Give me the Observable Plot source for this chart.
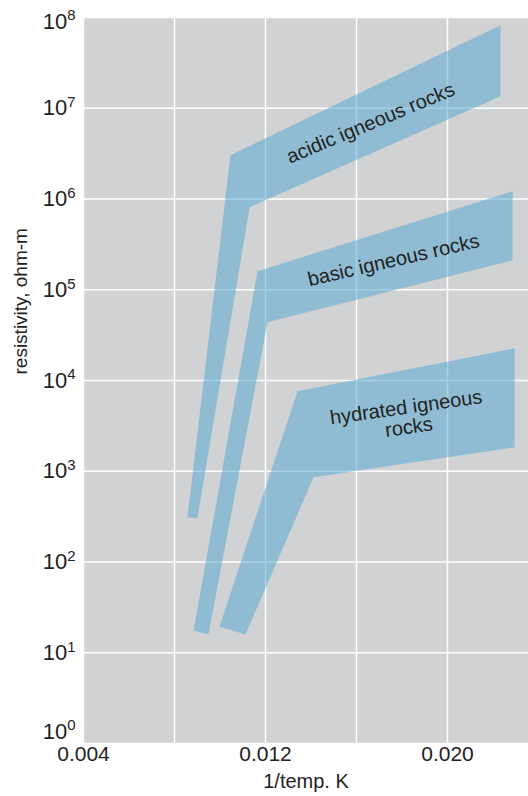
<!DOCTYPE html>
<html>
<head>
<meta charset="utf-8">
<script src="https://cdn.jsdelivr.net/npm/d3@7"></script>
<script src="https://cdn.jsdelivr.net/npm/@observablehq/plot@0.6"></script>
<style>
  html, body { margin: 0; padding: 0; background: #ffffff; }
  #chart { width: 528px; height: 796px; }
</style>
</head>
<body>
<div id="chart"></div>
<script>
// ---- data ----
const rockTypes = ["acidic igneous rocks", "basic igneous rocks", "hydrated igneous rocks"];

// polygon vertices of each band (1/T in 1/K, resistivity in ohm-m)
const acidicX = [0.00857, 0.01046, 0.02233, 0.02233, 0.01130, 0.00901];
const acidicY = [310, 3.04e6, 8.24e7, 1.36e7, 8.12e5, 303];

const basicX = [0.00884, 0.01165, 0.02286, 0.02286, 0.01209, 0.00949];
const basicY = [17.6, 1.60e5, 1.22e6, 2.11e5, 4.38e4, 15.9];

const hydratedX = [0.00998, 0.01341, 0.02295, 0.02295, 0.01411, 0.01112];
const hydratedY = [19.5, 7.6e3, 2.26e4, 1.83e3, 857, 15.9];

// band labels
const labelText = ["acidic igneous rocks", "basic igneous rocks", "hydrated igneous\nrocks"];
const labelX = [0.01662, 0.01763, 0.01824];
const labelY = [6.85e6, 2.11e5, 3.93e3];
const labelAngle = [-22.6, -13, -8];

// axes
const xGridTicks = [0.004, 0.008, 0.012, 0.016, 0.020];
const xLabelTicks = [0.004, 0.012, 0.020];
const yTicks = [1, 10, 100, 1e3, 1e4, 1e5, 1e6, 1e7, 1e8];
const xTitle = "1/temp. K";
const yTitle = "resistivity, ohm-m";

// ---- build tables ----
const bandXs = [acidicX, basicX, hydratedX];
const bandYs = [acidicY, basicY, hydratedY];
const bandRows = [];
rockTypes.forEach((rock, i) => {
  bandXs[i].forEach((x, j) => bandRows.push({rock, x, y: bandYs[i][j]}));
});
const labelRows = labelText.map((t, i) => ({text: t, x: labelX[i], y: labelY[i], angle: labelAngle[i]}));

const FONT = "'Liberation Sans', Arial, sans-serif";

const chart = Plot.plot({
  width: 528,
  height: 796,
  marginTop: 17,
  marginBottom: 53,
  marginLeft: 83,
  marginRight: 0,
  style: {fontFamily: FONT, color: "#222", background: "#ffffff"},
  x: {domain: [0.004, 0.02356]},
  y: {type: "log", domain: [1, 1e8]},
  marks: [
    Plot.frame({fill: "#d1d2d4", stroke: "none"}),
    Plot.gridX(xGridTicks, {stroke: "#ffffff", strokeOpacity: 1, strokeWidth: 1.5}),
    Plot.gridY(yTicks, {stroke: "#ffffff", strokeOpacity: 1, strokeWidth: 1.5}),
    Plot.line(bandRows, {x: "x", y: "y", z: "rock", fill: "#59aacf", fillOpacity: 0.55, stroke: "none", curve: "linear-closed"}),
    ...labelRows.map(d => Plot.text([d], {
      x: "x", y: "y", text: "text", rotate: d.angle,
      fontSize: 20, fill: "#222", lineHeight: 1.0
    })),
    Plot.axisX(xLabelTicks, {
      tickSize: 0, tickPadding: 3, fontSize: 21, fill: "#222",
      tickFormat: d3.format(".3f"), label: null
    }),
    Plot.axisY(yTicks, {
      tickSize: 0, tickPadding: 8, fontSize: 22, fill: "#222",
      tickFormat: d => "10^" + Math.round(Math.log10(d)), label: null
    }),
    Plot.text([xTitle], {frameAnchor: "bottom", dy: 44, fontSize: 20, fill: "#222"}),
    Plot.text([yTitle], {frameAnchor: "left", dx: -63, dy: -6, rotate: -90, fontSize: 19, fill: "#222"})
  ]
});

// superscript exponents for the y tick labels
d3.select(chart).selectAll('g[aria-label="y-axis tick label"] text').each(function() {
  const t = this.textContent;
  const m = /^10\^(\d+)$/.exec(t);
  if (!m) return;
  const el = d3.select(this);
  el.text(null);
  el.append("tspan").text("10");
  el.append("tspan").attr("dy", "-0.55em").attr("font-size", "0.68em").text(m[1]);
  const tr = this.getAttribute("transform") || "";
  if (m[1] === "0") this.setAttribute("transform", tr + " translate(0,-12)");
  if (m[1] === "8") this.setAttribute("transform", tr + " translate(0,4)");
});

document.getElementById("chart").appendChild(chart);
</script>
</body>
</html>
